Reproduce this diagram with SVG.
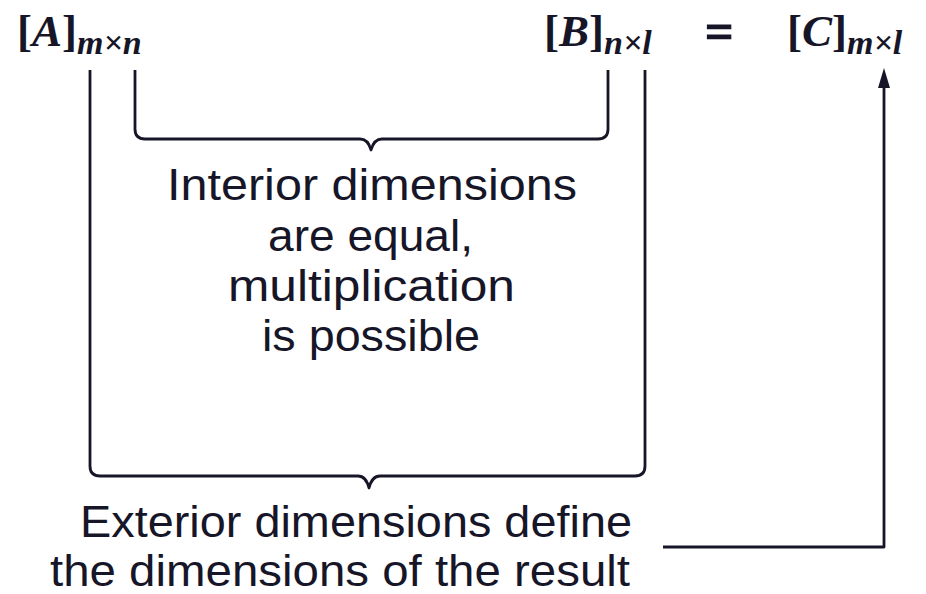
<svg xmlns="http://www.w3.org/2000/svg" width="926" height="594" viewBox="0 0 926 594">
  <defs>
    <style>
      .math { font-family: "Liberation Serif", "Times New Roman", serif; font-weight: bold; fill: #161628; }
      .it { font-style: italic; }
      .lbl { font-family: "Liberation Sans", Arial, sans-serif; font-size: 44px; fill: #161628; }
      .ln { fill: none; stroke: #161628; stroke-width: 2.8; stroke-linejoin: round; }
    </style>
    <marker id="arrow" markerUnits="userSpaceOnUse" markerWidth="20" markerHeight="12" refX="0" refY="6" orient="auto" viewBox="0 0 20 12">
      <path d="M0,0 L20,6 L0,12 Z" fill="#161628"/>
    </marker>
  </defs>
  <rect width="926" height="594" fill="#ffffff"/>

  <g id="matrixA">
    <text class="math" x="17" y="46" font-size="45">[<tspan class="it">A</tspan>]<tspan class="it" font-size="34" dy="8">m×n</tspan></text>
  </g>
  <g id="matrixB">
    <text class="math" x="544" y="46" font-size="45">[<tspan class="it">B</tspan>]<tspan class="it" font-size="34" dy="8">n×l</tspan></text>
  </g>
  <g id="equals">
    <text class="math" x="705" y="48" font-size="50" stroke="#161628" stroke-width="1.2">=</text>
  </g>
  <g id="matrixC">
    <text class="math" x="787" y="46" font-size="45">[<tspan class="it">C</tspan>]<tspan class="it" font-size="34" dy="8">m×l</tspan></text>
  </g>

  <g id="interior-label">
    <text class="lbl" x="167" y="200" textLength="410" lengthAdjust="spacingAndGlyphs">Interior dimensions</text>
    <text class="lbl" x="268" y="251" textLength="205" lengthAdjust="spacingAndGlyphs">are equal,</text>
    <text class="lbl" x="228" y="301" textLength="287" lengthAdjust="spacingAndGlyphs">multiplication</text>
    <text class="lbl" x="262" y="351" textLength="218" lengthAdjust="spacingAndGlyphs">is possible</text>
  </g>

  <g id="exterior-label">
    <text class="lbl" x="80" y="537" textLength="552" lengthAdjust="spacingAndGlyphs">Exterior dimensions define</text>
    <text class="lbl" x="50" y="586" textLength="580" lengthAdjust="spacingAndGlyphs">the dimensions of the result</text>
  </g>

  <g id="connectors">
    <path class="ln" d="M135,70 V129 Q135,139 145,139 H360 Q368,139 371,150 Q374,139 382,139 H598 Q608,139 608,129 V70"/>
    <path class="ln" d="M90,70 V466 Q90,476 100,476 H358 Q366,476 369,488 Q372,476 380,476 H635 Q645,476 645,466 V70"/>
    <path class="ln" d="M663,547 H884 V88" marker-end="url(#arrow)"/>
  </g>
</svg>
